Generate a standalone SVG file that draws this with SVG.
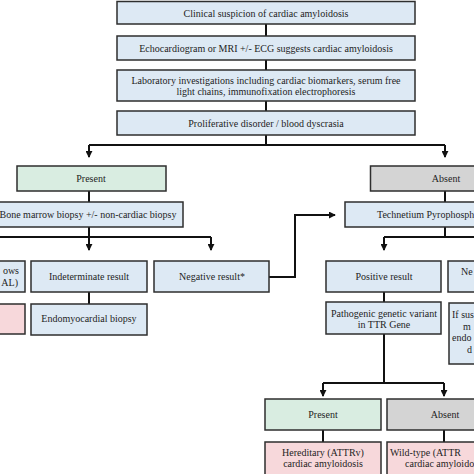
<svg xmlns="http://www.w3.org/2000/svg" width="474" height="474" viewBox="0 0 474 474">
<style>
.b{fill:#dde9f4;stroke:#2e2e2e;stroke-width:1.5}
.g{fill:#d9ede1;stroke:#2e2e2e;stroke-width:1.5}
.a{fill:#d4d4d4;stroke:#2e2e2e;stroke-width:1.5}
.p{fill:#f7d8db;stroke:#2e2e2e;stroke-width:1.5}
.c{text-anchor:middle}
.e{text-anchor:end}
.ln{fill:none;stroke:#111;stroke-width:2}
</style>
<defs>
<marker id="ar" viewBox="0 0 8 8" refX="7" refY="4" markerWidth="3.5" markerHeight="3.5" orient="auto" markerUnits="strokeWidth">
<path d="M0,0 L8,4 L0,8 Z" fill="#111"/>
</marker>
</defs>
<rect width="474" height="474" fill="#fff"/>
<g id="connectors">
<path class="ln" d="M266,24 V36 M266,60 V70 M266,101 V111 M266,135 V145"/>
<path class="ln" d="M89,145 H445"/>
<path class="ln" d="M89,145 V157" marker-end="url(#ar)"/>
<path class="ln" d="M445,145 V157" marker-end="url(#ar)"/>
<path class="ln" d="M89,191 V202 M445,191 V202"/>
<path class="ln" d="M89,227 V237 M-33,237 H211"/>
<path class="ln" d="M89,237 V250" marker-end="url(#ar)"/>
<path class="ln" d="M211,237 V250" marker-end="url(#ar)"/>
<path class="ln" d="M89,292 V304"/>
<path class="ln" d="M269,277 H295 V215 H335" marker-end="url(#ar)"/>
<path class="ln" d="M445,227 V237 M384,237 H506"/>
<path class="ln" d="M384,237 V250" marker-end="url(#ar)"/>
<path class="ln" d="M384,292 V302 M384,334 V383 M323,383 H444"/>
<path class="ln" d="M323,383 V396" marker-end="url(#ar)"/>
<path class="ln" d="M444,383 V396" marker-end="url(#ar)"/>
<path class="ln" d="M323,430 V442 M444,430 V442"/>
</g>
<g font-family="Liberation Serif, serif" font-size="10" fill="#1e1e1e">
<g id="n1"><rect class="b" x="117" y="1.5" width="298" height="22.5"/><text class="c" x="266" y="16.5">Clinical suspicion of cardiac amyloidosis</text></g>
<g id="n2"><rect class="b" x="117" y="36" width="298" height="24"/><text class="c" x="266" y="51.5">Echocardiogram or MRI +/- ECG suggests cardiac amyloidosis</text></g>
<g id="n3"><rect class="b" x="117" y="70" width="298" height="31"/><text class="c" x="266" y="83.5">Laboratory investigations including cardiac biomarkers, serum free</text><text class="c" x="266" y="94.5">light chains, immunofixation electrophoresis</text></g>
<g id="n4"><rect class="b" x="117" y="111" width="298" height="24"/><text class="c" x="266" y="126.5">Proliferative disorder / blood dyscrasia</text></g>
<g id="n5"><rect class="g" x="17" y="166" width="149" height="25"/><text class="c" x="91" y="181.5">Present</text></g>
<g id="n6"><rect class="a" x="370.5" y="166" width="149" height="25"/><text class="c" x="446" y="181.5">Absent</text></g>
<g id="n7"><rect class="b" x="-5" y="202" width="188" height="25"/><text class="c" x="88" y="217.5">Bone marrow biopsy +/- non-cardiac biopsy</text></g>
<g id="n8"><rect class="b" x="345" y="202" width="200" height="25"/><text x="377" y="217.5">Technetium Pyrophosph</text></g>
<g id="n9"><rect class="b" x="-91" y="261" width="116" height="31"/><text class="e" x="19" y="273.5">ows</text><text class="e" x="18" y="285.5">AL)</text></g>
<g id="n10"><rect class="p" x="-91" y="304" width="116" height="30"/></g>
<g id="n11"><rect class="b" x="31" y="261" width="116" height="31"/><text class="c" x="89" y="279.5">Indeterminate result</text></g>
<g id="n12"><rect class="b" x="154" y="261" width="115" height="31"/><text class="c" x="212" y="279.5">Negative result*</text></g>
<g id="n13"><rect class="b" x="31" y="304" width="116" height="31"/><text class="c" x="89" y="321.5">Endomyocardial biopsy</text></g>
<g id="n14"><rect class="b" x="326" y="261" width="115" height="31"/><text class="c" x="384" y="279.5">Positive result</text></g>
<g id="n15"><rect class="b" x="448" y="261" width="116" height="31"/><text x="461" y="275">Ne</text></g>
<g id="n16"><rect class="b" x="326" y="302" width="115" height="32"/><text class="c" x="384" y="316.5">Pathogenic genetic variant</text><text class="c" x="384" y="328">in TTR Gene</text></g>
<g id="n17"><rect class="b" x="449" y="303" width="116" height="61"/><text x="452" y="318">If sus</text><text x="463" y="329.5">m</text><text x="452" y="341">endo</text><text x="467" y="352.5">d</text></g>
<g id="n18"><rect class="g" x="265" y="399" width="116" height="31"/><text class="c" x="323" y="417.5">Present</text></g>
<g id="n19"><rect class="a" x="387" y="399" width="116" height="31"/><text class="c" x="445" y="417.5">Absent</text></g>
<g id="n20"><rect class="p" x="265" y="442" width="116" height="36"/><text class="c" x="323" y="455.5">Hereditary (ATTRv)</text><text class="c" x="323" y="466.5">cardiac amyloidosis</text></g>
<g id="n21"><rect class="p" x="387" y="442" width="116" height="36"/><text x="390" y="455.5">Wild-type (ATTR</text><text x="405" y="466.5">cardiac amyloido</text></g>
</g>
</svg>
